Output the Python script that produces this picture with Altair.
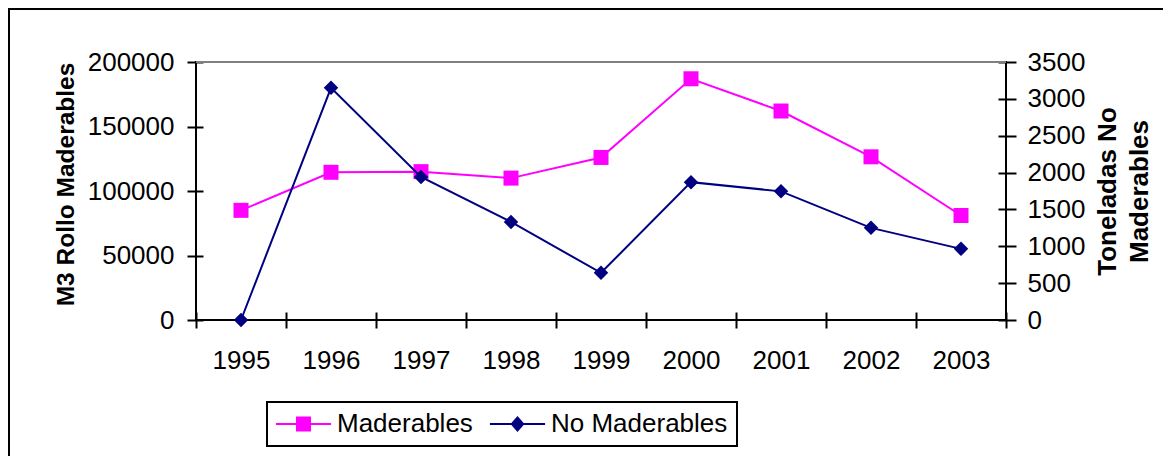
import altair as alt
import pandas as pd

years = ["1995", "1996", "1997", "1998", "1999", "2000", "2001", "2002", "2003"]
maderables = [85000, 114500, 115000, 110000, 126000, 187000, 162000, 126500, 81000]
no_maderables = [0, 3150, 1940, 1330, 640, 1870, 1745, 1250, 965]
series = ["Maderables", "No Maderables"]
colors = ["#ff00ff", "#000080"]
left_ticks = [0, 50000, 100000, 150000, 200000]
right_ticks = [0, 500, 1000, 1500, 2000, 2500, 3000, 3500]

dfA = pd.DataFrame({"year": years, "value": maderables})
dfB = pd.DataFrame({"year": years, "value": no_maderables})
dfL = pd.DataFrame({"serie": series})

FONT = "Liberation Sans"
W, H = 810, 258

x_enc = alt.X(
    "year:O", sort=years,
    scale=alt.Scale(type="band", paddingInner=0, paddingOuter=0),
    axis=alt.Axis(title=None, orient="bottom", offset=-8, tickSize=16, tickBand="extent",
                  domain=False, grid=False, labelAngle=0, labelPadding=19,
                  labelFontSize=26, tickWidth=2),
)

# legend symbols: a line segment with the marker in its middle (unit = 13 px)
sq = "M-2.12,-0.077H2.12V0.077H-2.12Z M-0.58,-0.58H0.58V0.58H-0.58Z"
dm = "M-2.12,-0.077H2.12V0.077H-2.12Z M0,-0.62L0.54,0L0,0.62L-0.54,0Z"

legend = alt.Legend(
    title=None, orient="none", legendX=71, legendY=340, direction="horizontal",
    symbolSize=676, symbolOffset=14.5, labelFontSize=26, labelOffset=20.5, columnPadding=16,
    padding=9, strokeColor="black", fillColor="white", symbolStrokeWidth=0,
    symbolOpacity=1, labelLimit=400,
    labelExpr=f"datum.label == '{series[1]}' ? datum.label + ' ' : datum.label",
)

y_left = alt.Y(
    "value:Q",
    scale=alt.Scale(domain=[0, 200000], nice=False, zero=True),
    axis=alt.Axis(orient="left", values=left_ticks, format="d", title="M3 Rollo Maderables",
                  offset=-7, tickSize=16, tickWidth=2, domain=False, grid=False, labelPadding=13,
                  labelFontSize=26, titleFontSize=24.5, titleFontWeight="bold", titleAngle=270,
                  titleBaseline="middle", titleAlign="center", titleX=-137, titleY=122),
)
y_right = alt.Y(
    "value:Q",
    scale=alt.Scale(domain=[0, 3500], nice=False, zero=True),
    axis=alt.Axis(orient="right", values=right_ticks, format="d", title=["Toneladas No", "Maderables"],
                  offset=-8, tickSize=18, tickWidth=2, domain=False, grid=False, labelPadding=11,
                  labelFontSize=26, titleFontSize=26, titleFontWeight="bold", titleAngle=270,
                  titleBaseline="middle", titleAlign="center", titleLineHeight=32,
                  titleX=109, titleY=129),
)

rule = alt.Chart(pd.DataFrame({"g": [0]})).mark_rule(color="#808080", strokeWidth=2).encode(
    y=alt.datum(left_ticks[-1])
)
lineA = alt.Chart(dfA).mark_line(strokeWidth=2, color=colors[0]).encode(x=x_enc, y=y_left)
ptA = alt.Chart(dfA).mark_point(shape="square", filled=True, size=225, opacity=1,
                                color=colors[0]).encode(x=x_enc, y=y_left)
lineB = alt.Chart(dfB).mark_line(strokeWidth=2, color=colors[1]).encode(x=x_enc, y=y_right)
ptB = alt.Chart(dfB).mark_point(shape="diamond", filled=True, size=210, opacity=1,
                                color=colors[1]).encode(x=x_enc, y=y_right)

legend_layer = alt.Chart(dfL).mark_point(filled=True, opacity=0).encode(
    x=alt.value(0), y=alt.value(0),
    color=alt.Color("serie:N", scale=alt.Scale(domain=series, range=colors), legend=legend),
    shape=alt.Shape("serie:N", scale=alt.Scale(domain=series, range=[sq, dm]), legend=legend),
)

frame = alt.Chart(pd.DataFrame({"f": [0]})).mark_rect(
    fillOpacity=0, stroke="black", strokeWidth=2
).encode(x=alt.value(-187), x2=alt.value(1200), y=alt.value(-53), y2=alt.value(700))

left = alt.layer(rule, lineA, ptA)
right = alt.layer(lineB, ptB)

chart = alt.layer(frame, left, right, legend_layer).resolve_scale(y="independent").properties(
    width=W, height=H,
    padding={"left": 188, "top": 54, "right": 157, "bottom": 136},
    autosize=alt.AutoSizeParams(type="none"),
).configure(font=FONT).configure_view(stroke="black", strokeWidth=2).configure_axis(
    labelFont=FONT, titleFont=FONT, labelColor="black", titleColor="black", tickColor="black"
).configure_legend(labelFont=FONT, labelColor="black", strokeWidth=2)

chart.save("out.html", embed_options={"renderer": "svg", "actions": False})
